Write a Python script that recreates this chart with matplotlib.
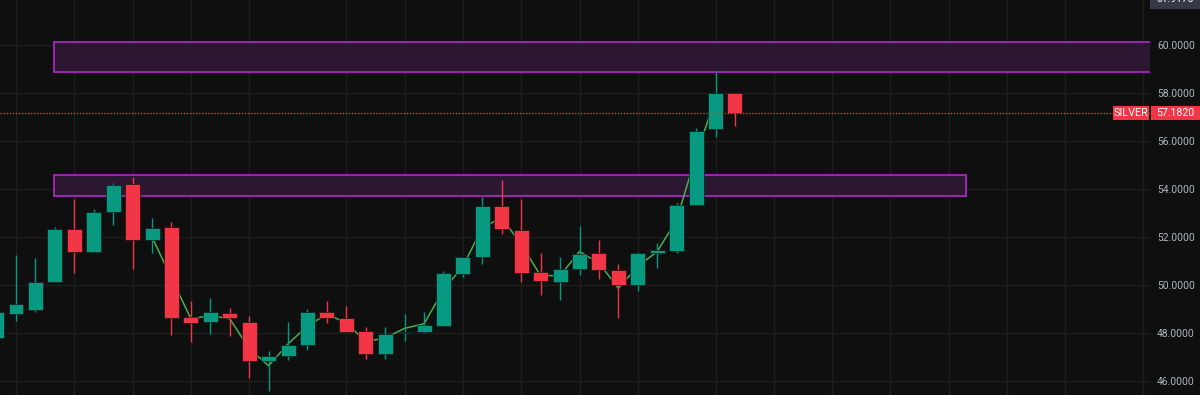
import matplotlib
matplotlib.use("Agg")
import matplotlib.pyplot as plt
from matplotlib.patches import Rectangle
import numpy as np

# ---------------- data ----------------
opens  = [47.80, 48.80, 48.97, 50.11, 52.33, 51.40, 53.04, 54.22, 51.86, 52.43,
          48.67, 48.46, 48.83, 48.47, 46.83, 47.04, 47.50, 48.89, 48.63, 48.07,
          47.15, 47.99, 48.03, 48.30, 50.48, 51.17, 53.28, 52.30, 50.53, 50.15,
          50.68, 51.32, 50.63, 50.01, 51.33, 51.43, 53.35, 56.50, 58.00]
highs  = [49.00, 51.25, 51.12, 52.44, 53.58, 53.18, 54.25, 54.50, 52.79, 52.64,
          49.32, 49.46, 49.03, 48.72, 47.25, 48.46, 49.00, 49.35, 49.14, 48.25,
          48.27, 48.78, 48.90, 50.60, 51.18, 53.69, 54.39, 53.58, 51.32, 51.17,
          52.47, 51.89, 50.86, 51.40, 51.75, 53.42, 56.54, 58.86, 58.00]
lows   = [47.60, 48.52, 48.86, 50.11, 50.52, 51.40, 52.50, 50.67, 51.33, 47.93,
          47.61, 47.96, 47.86, 46.11, 45.57, 46.89, 47.30, 48.42, 48.05, 46.92,
          46.92, 47.69, 48.00, 48.30, 50.32, 50.90, 52.11, 50.11, 49.60, 49.40,
          50.42, 50.25, 48.65, 49.76, 50.73, 51.32, 53.35, 56.19, 56.64]
closes = [48.86, 49.22, 50.14, 52.33, 51.40, 53.05, 54.17, 51.86, 52.39, 48.65,
          48.42, 48.86, 48.61, 46.82, 47.03, 47.51, 48.89, 48.65, 48.05, 47.15,
          47.98, 48.01, 48.35, 50.50, 51.18, 53.28, 52.32, 50.51, 50.19, 50.69,
          51.28, 50.65, 50.00, 51.35, 51.46, 53.35, 56.43, 58.00, 57.18]

line_start = 8
line_vals = [52.0, 50.3, 48.6, 48.73, 48.6, 47.35, 46.64, 47.55, 48.3, 48.79,
             48.42, 47.65, 47.8, 48.2, 48.39, 49.8, 50.78, 52.4, 52.8, 51.7,
             50.39, 50.40, 51.40, 50.92, 49.87, 50.78, 51.40, 52.72, 55.4, 57.79]

# zones: (start bar, end bar or None for open-ended, low, high)
zones = [(2.95, None, 58.89, 60.11),
         (2.95, 49.9, 53.71, 54.58)]

last_price = 57.182
symbol = "SILVER"
top_value_label = "61.9175"
y_ticks = [46, 48, 50, 52, 54, 56, 58, 60]
grid_bars = [1, 4, 7, 10, 13, 18, 21, 24, 27, 30, 33, 37, 40, 43, 46, 49, 52, 55, 59]

# ---------------- style ----------------
BG = "#0f0f0f"
GRID = "#1e1e1e"
UP = "#089981"
DOWN = "#f23645"
LINE = "#4caf50"
ZONE_EDGE = "#9c27b0"
ZONE_FILL = "#2c1733"
TXT = "#b2b5be"

W, H = 1200, 395
fig = plt.figure(figsize=(W / 100, H / 100), dpi=100, facecolor=BG)
plot_w = 1150
ax = fig.add_axes([0, 0, plot_w / W, 1])
ax.set_facecolor(BG)

x_left, x_right = 0.1765, 59.36
y_top = 61.88
y_bot = y_top - H / 24.0
ax.set_xlim(x_left, x_right)
ax.set_ylim(y_bot, y_top)

for s in ax.spines.values():
    s.set_visible(False)

# grid
for gx in grid_bars:
    ax.axvline(gx, color=GRID, lw=1, zorder=0)
for gy in range(46, 64, 2):
    ax.axhline(gy, color=GRID, lw=1, zorder=0)

# zones
for x0, x1, lo, hi in zones:
    xe = x_right + 1 if x1 is None else x1
    ax.add_patch(Rectangle((x0, lo), xe - x0, hi - lo, facecolor=ZONE_FILL,
                           edgecolor=ZONE_EDGE, lw=1.4, zorder=1))

# indicator line
lx = np.arange(line_start, line_start + len(line_vals))
ax.plot(lx, line_vals, color=LINE, lw=1.1, zorder=2)

# candles
bw = 0.77
for i, (o, h, l, c) in enumerate(zip(opens, highs, lows, closes)):
    col = UP if c >= o else DOWN
    ax.plot([i, i], [l, h], color=col, lw=1.0, zorder=3, solid_capstyle="butt")
    lo_b, hi_b = min(o, c), max(o, c)
    ht = max(hi_b - lo_b, 0.04)
    ax.add_patch(Rectangle((i - bw / 2, lo_b), bw, ht, facecolor=col,
                           edgecolor="#0b0b0b", lw=0.4, zorder=4))

# last price dotted line
ax.axhline(last_price, color=DOWN, lw=1.0, ls=(0, (1, 1.2)), zorder=5)

# y tick labels on the right
ax.set_xticks([])
ax.yaxis.tick_right()
ax.set_yticks(y_ticks)
ax.set_yticklabels([f"{v:.4f}" for v in y_ticks], color=TXT,
                   fontsize=7.4, fontfamily="Roboto")
ax.tick_params(axis="y", length=0, pad=5)

# price labels
def yfig(v):
    return (v - y_bot) / (y_top - y_bot)

yl = yfig(last_price)
fig.patches.append(Rectangle((1113 / W, yl - 7.2 / H), 36 / W, 14.4 / H,
                             transform=fig.transFigure, facecolor=DOWN,
                             edgecolor="none", zorder=10))
fig.patches.append(Rectangle((1151 / W, yl - 7.2 / H), 49 / W, 14.4 / H,
                             transform=fig.transFigure, facecolor=DOWN,
                             edgecolor="none", zorder=10))
fig.text(1131 / W, yl, symbol, color="white", fontsize=7.8, fontfamily="Roboto",
         ha="center", va="center", zorder=11)
fig.text(1175.5 / W, yl, f"{last_price:.4f}", color="white", fontsize=7.6,
         fontfamily="Roboto", ha="center", va="center", zorder=11)

# top value label (clipped by the top edge, as in the reference)
fig.patches.append(Rectangle((1150 / W, 1 - 9 / H), 50 / W, 12 / H,
                             transform=fig.transFigure, facecolor="#363a45",
                             edgecolor="none", zorder=10))
fig.text(1175 / W, 1 + 0.5 / H, top_value_label, color="white", fontsize=7.4,
         fontfamily="Roboto", ha="center", va="center", zorder=11)

fig.savefig("out.png", dpi=100, facecolor=BG)
